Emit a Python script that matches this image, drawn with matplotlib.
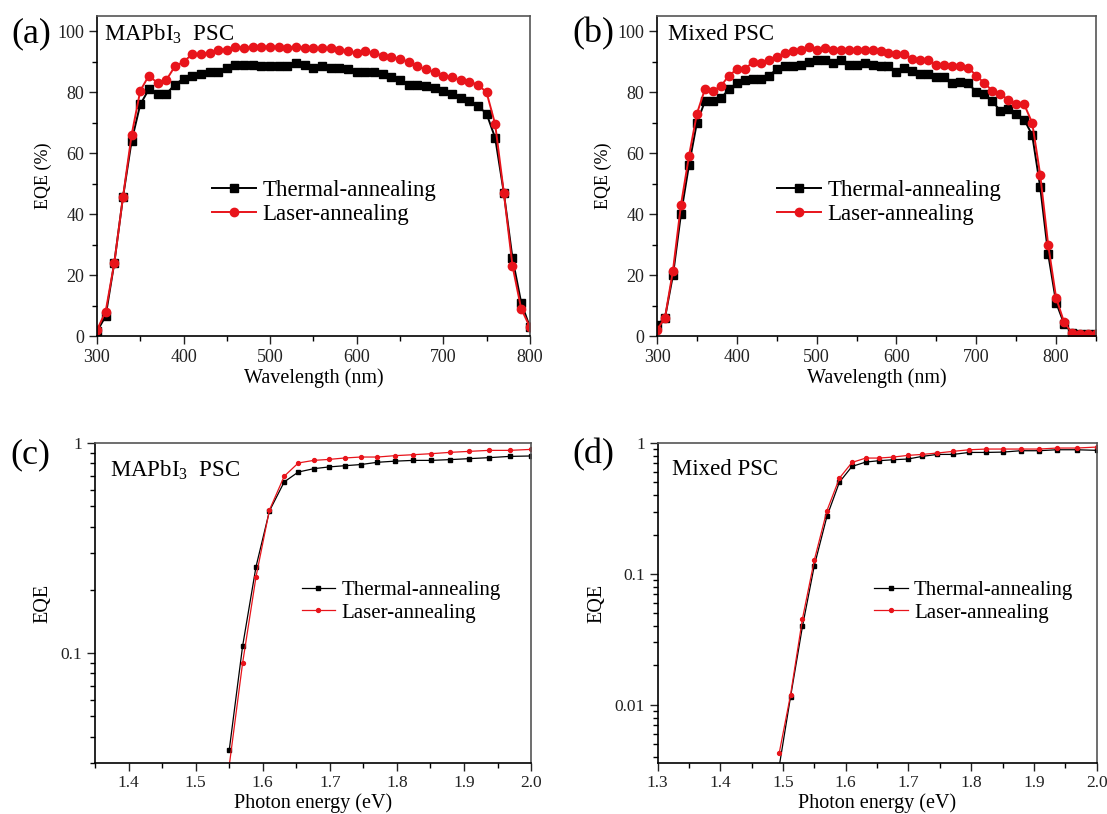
import numpy as np
import matplotlib
matplotlib.use("Agg")
import matplotlib.pyplot as plt
from matplotlib.ticker import MultipleLocator, NullFormatter, LogLocator

plt.rcParams['font.family'] = ['Liberation Serif', 'DejaVu Serif']
plt.rcParams['mathtext.fontset'] = 'custom'
plt.rcParams['mathtext.rm'] = 'Liberation Serif'
plt.rcParams['mathtext.it'] = 'Liberation Serif:italic'

# (a) MAPbI3 EQE vs wavelength
wl_a = np.arange(300, 801, 10)
thermal_a = [1.5, 6.5, 24, 45.5, 64, 76, 81, 79.5, 79.5, 82.5, 84.5, 85.5, 86, 86.5, 86.5,
             88, 89, 89, 89, 88.5, 88.5, 88.5, 88.5, 89.5, 89, 88, 88.5, 88, 88, 87.5,
             86.5, 86.5, 86.5, 86, 85, 84, 82.5, 82.5, 82, 81.5, 80.5, 79.5, 78, 77, 75.5,
             73, 65, 47, 25.5, 11, 3]
laser_a = [2, 8, 24, 45.5, 66, 80.5, 85.5, 83, 84, 88.5, 90, 92.5, 92.5, 93, 94, 94, 95,
           94.5, 95, 95, 95, 95, 94.5, 95, 94.5, 94.5, 94.5, 94.5, 94, 93.5, 93, 93.5, 93,
           92, 91.5, 91, 90, 88.5, 87.5, 86.5, 85.5, 85, 84, 83.5, 82.5, 80, 69.5, 47, 23,
           9, 3]

# (b) Mixed EQE vs wavelength
wl_b = np.arange(300, 851, 10)
thermal_b = [3.5, 6, 20, 40, 56, 70, 77, 77, 78, 81, 83, 84, 84.5, 84.5, 85.5, 87.5, 88.5,
             88.5, 89, 90, 90.5, 90.5, 89.5, 90.5, 89, 89, 89.5, 89, 88.5, 88.5, 86.5, 88,
             87, 86, 86, 85, 85, 83, 83.5, 83, 80, 79.5, 77, 74, 74.5, 73, 71, 66, 49, 27,
             11, 4, 1, 0.5, 0.5, 0.5]
laser_b = [2, 6, 21.5, 43, 59, 73, 81, 80.5, 82, 85.5, 87.5, 87.5, 90, 89.5, 90.5, 91.5,
           93, 93.5, 94, 95, 94, 94.5, 94, 94, 94, 94, 94, 94, 93.5, 93, 92.5, 92.5, 91,
           90.5, 90.5, 89, 89, 88.5, 88.5, 88, 85.5, 83, 80.5, 79.5, 77.5, 76, 76, 70, 53,
           30, 12.5, 4.5, 1, 0.5, 0.5, 0.5]

# (c) MAPbI3 EQE vs photon energy (log)
ev_c = [1.550, 1.570, 1.590, 1.610, 1.632, 1.653, 1.676, 1.699, 1.722, 1.746, 1.771,
        1.797, 1.824, 1.851, 1.879, 1.908, 1.937, 1.968, 2.000]
thermal_c = [0.0344, 0.108, 0.258, 0.475, 0.653, 0.728, 0.755, 0.77, 0.78, 0.79, 0.81,
             0.82, 0.827, 0.827, 0.834, 0.843, 0.852, 0.864, 0.868]
laser_c = [0.029, 0.0897, 0.231, 0.48, 0.695, 0.804, 0.827, 0.836, 0.849, 0.858, 0.858,
           0.871, 0.88, 0.89, 0.903, 0.913, 0.923, 0.923, 0.933]

# (d) Mixed EQE vs photon energy (log)
ev_d = [1.494, 1.512, 1.531, 1.550, 1.570, 1.590, 1.610, 1.632, 1.653, 1.676, 1.699,
        1.722, 1.746, 1.771, 1.797, 1.824, 1.851, 1.879, 1.908, 1.937, 1.968, 2.000]
thermal_d = [0.0034, 0.0115, 0.0397, 0.116, 0.275, 0.503, 0.663, 0.716, 0.733, 0.746,
             0.755, 0.791, 0.819, 0.819, 0.848, 0.848, 0.853, 0.874, 0.874, 0.889, 0.889,
             0.88]
laser_d = [0.0043, 0.0119, 0.0454, 0.128, 0.304, 0.54, 0.711, 0.768, 0.768, 0.782, 0.805,
           0.819, 0.839, 0.864, 0.889, 0.9, 0.9, 0.9, 0.9, 0.916, 0.916, 0.932]

labels = ['Thermal-annealing', 'Laser-annealing']
RED = '#e8141b'

fig = plt.figure(figsize=(11.07, 8.14), dpi=100)
ax_a = fig.add_axes([0.0876, 0.5872, 0.391, 0.393])
ax_b = fig.add_axes([0.5935, 0.5872, 0.3966, 0.393])
ax_c = fig.add_axes([0.0858, 0.0627, 0.394, 0.393])
ax_d = fig.add_axes([0.594, 0.0627, 0.3966, 0.393])


def style(ax, size):
    ax.tick_params(which='major', direction='out', length=5.5, width=1, labelsize=size,
                   top=False, right=False, colors='#222222')
    ax.tick_params(which='minor', direction='out', length=3.5, width=1, top=False, right=False)
    for s in ['left', 'bottom']:
        ax.spines[s].set_linewidth(1.2)
        ax.spines[s].set_color('black')
    for s in ['top', 'right']:
        ax.spines[s].set_linewidth(1.2)
        ax.spines[s].set_color('#555555')


# linear panels
for ax, wl, th, la, xmax, title, leg_x in [
        (ax_a, wl_a, thermal_a, laser_a, 800, r'MAPbI$_3$  PSC', 0.266),
        (ax_b, wl_b, thermal_b, laser_b, 850, 'Mixed PSC', 0.274)]:
    ax.plot(wl, th, '-s', color='black', lw=1.4, ms=5.5, label=labels[0])
    ax.plot(wl, la, '-o', color=RED, lw=1.4, ms=6, label=labels[1])
    ax.set_xlim(300, xmax)
    ax.set_ylim(0, 105)
    ax.xaxis.set_major_locator(MultipleLocator(100))
    ax.xaxis.set_minor_locator(MultipleLocator(50))
    ax.yaxis.set_major_locator(MultipleLocator(20))
    ax.yaxis.set_minor_locator(MultipleLocator(10))
    style(ax, 13)
    ax.set_xlabel('Wavelength (nm)', fontsize=14.5, labelpad=2)
    ax.set_ylabel('EQE (%)', fontsize=13, labelpad=4)
    ax.text(0.017 if ax is ax_a else 0.024, 0.944, title, transform=ax.transAxes,
            fontsize=16.5, va='center', ha='left')
    ax.legend(loc='center left', bbox_to_anchor=(leg_x, 0.418), frameon=False,
              fontsize=16.5, handlelength=1.9, handletextpad=0.3, labelspacing=0.12,
              borderpad=0, borderaxespad=0)

# log panels
for ax, ev, th, la, xmin, ymin, yt, ytl, title, leg_x in [
        (ax_c, ev_c, thermal_c, laser_c, 1.35, 0.03, [0.1, 1], ['0.1', '1'],
         r'MAPbI$_3$  PSC', 0.474),
        (ax_d, ev_d, thermal_d, laser_d, 1.3, 0.0036, [0.01, 0.1, 1], ['0.01', '0.1', '1'],
         'Mixed PSC', 0.494)]:
    ax.plot(ev, th, '-s', color='black', lw=0.9, ms=2.8, label=labels[0])
    ax.plot(ev, la, '-o', color=RED, lw=0.9, ms=2.8, label=labels[1])
    ax.set_yscale('log')
    ax.set_xlim(xmin, 2.0)
    ax.set_ylim(ymin, 1)
    ax.set_yticks(yt)
    ax.set_yticklabels(ytl)
    ax.yaxis.set_minor_locator(LogLocator(base=10, subs=np.arange(2, 10)))
    ax.yaxis.set_minor_formatter(NullFormatter())
    ax.xaxis.set_major_locator(MultipleLocator(0.1))
    ax.xaxis.set_minor_locator(MultipleLocator(0.05))
    ax.xaxis.set_major_formatter(plt.FuncFormatter(lambda v, p: f'{v:.1f}'))
    style(ax, 12.5)
    ax.set_xlabel('Photon energy (eV)', fontsize=14.5, labelpad=1)
    ax.set_ylabel('EQE', fontsize=14.5, labelpad=6)
    ax.text(0.034, 0.916, title, transform=ax.transAxes, fontsize=16.5, va='center', ha='left')
    ax.legend(loc='center left', bbox_to_anchor=(leg_x, 0.505), frameon=False,
              fontsize=15, handlelength=1.6, handletextpad=0.3, labelspacing=0.15,
              borderpad=0, borderaxespad=0)

for lab, x, y in [('(a)', 0.028, 0.959), ('(b)', 0.536, 0.959),
                  ('(c)', 0.027, 0.441), ('(d)', 0.536, 0.441)]:
    fig.text(x, y, lab, fontsize=26, ha='center', va='center')

fig.savefig('out.png', dpi=100)
